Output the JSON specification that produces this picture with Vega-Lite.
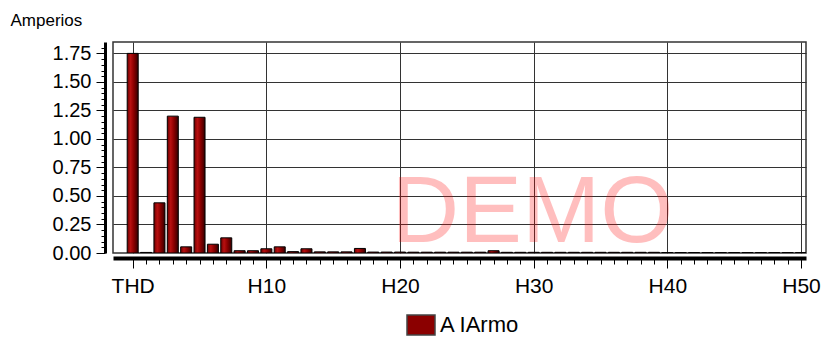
{
  "$schema": "https://vega.github.io/schema/vega-lite/v6.json",
  "autosize": {"type": "none"},
  "width": 693,
  "height": 211,
  "padding": {"left": 113, "top": 42, "right": 20, "bottom": 86},
  "background": "white",
  "config": {
    "view": {"stroke": "#333333", "strokeWidth": 1.5},
    "font": "Liberation Sans"
  },
  "datasets": {
    "harm": [
      {"n": 0, "h": "THD", "v": 1.75},
      {"n": 1, "h": "H1", "v": 0.005},
      {"n": 2, "h": "H2", "v": 0.44},
      {"n": 3, "h": "H3", "v": 1.2},
      {"n": 4, "h": "H4", "v": 0.054},
      {"n": 5, "h": "H5", "v": 1.19},
      {"n": 6, "h": "H6", "v": 0.077},
      {"n": 7, "h": "H7", "v": 0.133},
      {"n": 8, "h": "H8", "v": 0.02},
      {"n": 9, "h": "H9", "v": 0.02},
      {"n": 10, "h": "H10", "v": 0.037},
      {"n": 11, "h": "H11", "v": 0.054},
      {"n": 12, "h": "H12", "v": 0.012},
      {"n": 13, "h": "H13", "v": 0.037},
      {"n": 14, "h": "H14", "v": 0.01},
      {"n": 15, "h": "H15", "v": 0.01},
      {"n": 16, "h": "H16", "v": 0.01},
      {"n": 17, "h": "H17", "v": 0.04},
      {"n": 18, "h": "H18", "v": 0.008},
      {"n": 19, "h": "H19", "v": 0.008},
      {"n": 20, "h": "H20", "v": 0.008},
      {"n": 21, "h": "H21", "v": 0.007},
      {"n": 22, "h": "H22", "v": 0.007},
      {"n": 23, "h": "H23", "v": 0.007},
      {"n": 24, "h": "H24", "v": 0.007},
      {"n": 25, "h": "H25", "v": 0.007},
      {"n": 26, "h": "H26", "v": 0.007},
      {"n": 27, "h": "H27", "v": 0.02},
      {"n": 28, "h": "H28", "v": 0.006},
      {"n": 29, "h": "H29", "v": 0.006},
      {"n": 30, "h": "H30", "v": 0.006},
      {"n": 31, "h": "H31", "v": 0.006},
      {"n": 32, "h": "H32", "v": 0.006},
      {"n": 33, "h": "H33", "v": 0.006},
      {"n": 34, "h": "H34", "v": 0.006},
      {"n": 35, "h": "H35", "v": 0.006},
      {"n": 36, "h": "H36", "v": 0.006},
      {"n": 37, "h": "H37", "v": 0.006},
      {"n": 38, "h": "H38", "v": 0.006},
      {"n": 39, "h": "H39", "v": 0.006},
      {"n": 40, "h": "H40", "v": 0.004},
      {"n": 41, "h": "H41", "v": 0.004},
      {"n": 42, "h": "H42", "v": 0.004},
      {"n": 43, "h": "H43", "v": 0.004},
      {"n": 44, "h": "H44", "v": 0.004},
      {"n": 45, "h": "H45", "v": 0.004},
      {"n": 46, "h": "H46", "v": 0.004},
      {"n": 47, "h": "H47", "v": 0.004},
      {"n": 48, "h": "H48", "v": 0.004},
      {"n": 49, "h": "H49", "v": 0.004},
      {"n": 50, "h": "H50", "v": 0.004}
    ],
    "watermark": [{"w": "DEMO", "n": 29.9, "v": 0.095}]
  },
  "encoding": {
    "x": {
      "field": "n",
      "type": "quantitative",
      "scale": {"domain": [-1.1, 50], "nice": false, "zero": false},
      "axis": {
        "title": null,
        "offset": 5,
        "values": [0,1,2,3,4,5,6,7,8,9,10,11,12,13,14,15,16,17,18,19,20,21,22,23,24,25,26,27,28,29,30,31,32,33,34,35,36,37,38,39,40,41,42,43,44,45,46,47,48,49,50],
        "labelExpr": "datum.value === 0 ? 'THD' : (datum.value % 10 === 0 ? 'H' + datum.value : '')",
        "labelOverlap": false,
        "labelFlush": false,
        "labelFont": "Liberation Sans",
        "labelFontSize": 21,
        "labelColor": "#000000",
        "labelPadding": 7,
        "domainColor": "#000000",
        "domainWidth": 4,
        "tickColor": "#000000",
        "tickWidth": 1,
        "tickSize": {"condition": {"test": "datum.value % 10 === 0", "value": 10}, "value": 6},
        "grid": true,
        "gridColor": "#333333",
        "gridWidth": 1,
        "gridOpacity": {"condition": {"test": "datum.value % 10 === 0", "value": 1}, "value": 0}
      }
    },
    "y": {
      "field": "v",
      "type": "quantitative",
      "scale": {"domain": [0, 1.85], "nice": false},
      "axis": {
        "title": "Amperios",
        "titleAngle": 0,
        "titleAlign": "left",
        "titleBaseline": "alphabetic",
        "titleX": -95,
        "titleY": -17,
        "titleFont": "Liberation Sans",
        "titleFontSize": 17,
        "titleFontWeight": "normal",
        "titleColor": "#000000",
        "offset": 8,
        "values": [0,0.05,0.1,0.15,0.2,0.25,0.3,0.35,0.4,0.45,0.5,0.55,0.6,0.65,0.7,0.75,0.8,0.85,0.9,0.95,1,1.05,1.1,1.15,1.2,1.25,1.3,1.35,1.4,1.45,1.5,1.55,1.6,1.65,1.7,1.75,1.8],
        "labelExpr": "abs(datum.value * 4 - round(datum.value * 4)) < 0.001 ? format(datum.value, '.2f') : ''",
        "labelOverlap": false,
        "labelFlush": false,
        "labelFont": "Liberation Sans",
        "labelFontSize": 20,
        "labelColor": "#000000",
        "labelPadding": 5,
        "domainColor": "#000000",
        "domainWidth": 3,
        "tickColor": "#000000",
        "tickWidth": 1,
        "tickSize": {"condition": {"test": "abs(datum.value * 4 - round(datum.value * 4)) < 0.001", "value": 9}, "value": 4},
        "grid": true,
        "gridColor": "#333333",
        "gridWidth": 1,
        "gridOpacity": {"condition": {"test": "abs(datum.value * 4 - round(datum.value * 4)) < 0.001 && datum.value > 0", "value": 1}, "value": 0}
      }
    }
  },
  "layer": [
    {
      "data": {"name": "harm"},
      "mark": {
        "type": "bar",
        "size": 11,
        "clip": true,
        "stroke": "#000000",
        "strokeWidth": 1,
        "fill": {
          "x1": 0, "y1": 0, "x2": 1, "y2": 0,
          "gradient": "linear",
          "stops": [
            {"offset": 0, "color": "#6a0000"},
            {"offset": 0.3, "color": "#b81010"},
            {"offset": 0.6, "color": "#8b0000"},
            {"offset": 1, "color": "#350000"}
          ]
        }
      }
    },
    {
      "data": {"name": "harm"},
      "mark": {"type": "bar", "size": 11, "opacity": 0},
      "encoding": {
        "color": {
          "datum": "A IArmo",
          "scale": {"range": ["#8B0000"]},
          "legend": {
            "title": null,
            "orient": "none",
            "legendX": 293,
            "legendY": 268,
            "padding": 0,
            "symbolType": "M-1,-0.714h2v1.428h-2z",
            "symbolSize": 784,
            "symbolOpacity": 1,
            "symbolFillColor": "#8B0000",
            "symbolStrokeColor": "#444444",
            "symbolStrokeWidth": 1.5,
            "labelFont": "Liberation Sans",
            "labelFontSize": 22,
            "labelColor": "#000000",
            "labelOffset": 4
          }
        }
      }
    },
    {
      "data": {"name": "watermark"},
      "mark": {
        "type": "text",
        "font": "Liberation Sans",
        "fontSize": 94,
        "color": "#FF0000",
        "opacity": 0.25,
        "align": "center",
        "baseline": "alphabetic"
      },
      "encoding": {
        "text": {"field": "w", "type": "nominal"}
      }
    }
  ]
}
